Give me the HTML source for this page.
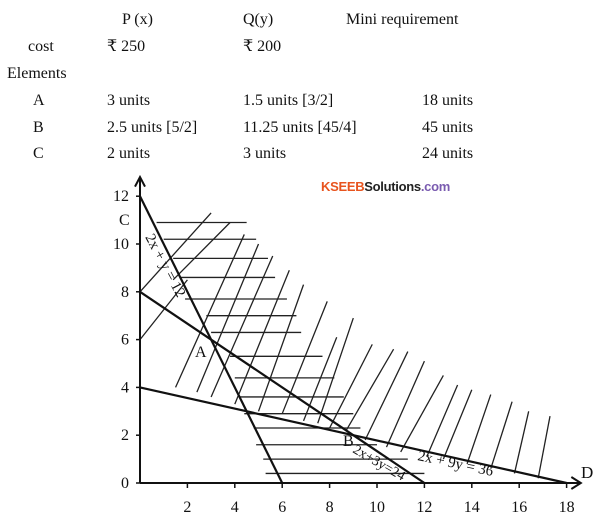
<!DOCTYPE html>
<html><head><meta charset="utf-8"><style>
body{margin:0;width:608px;height:519px;background:#fff;overflow:hidden;font-family:"Liberation Serif","DejaVu Serif",serif;}
svg{position:absolute;left:0;top:0}
text{font-family:"Liberation Serif","DejaVu Serif",serif;fill:#111}
</style></head><body>
<svg width="608" height="519">
<g font-size="16">
<text x="122" y="24">P (x)</text>
<text x="243" y="24">Q(y)</text>
<text x="346" y="24">Mini requirement</text>
<text x="28" y="51">cost</text>
<text x="107" y="51">₹ 250</text>
<text x="243" y="51">₹ 200</text>
<text x="7" y="78">Elements</text>
<text x="33" y="105">A</text>
<text x="107" y="105">3 units</text>
<text x="243" y="105">1.5 units [3/2]</text>
<text x="422" y="105">18 units</text>
<text x="33" y="132">B</text>
<text x="107" y="132">2.5 units [5/2]</text>
<text x="243" y="132">11.25 units [45/4]</text>
<text x="422" y="132">45 units</text>
<text x="33" y="158">C</text>
<text x="107" y="158">2 units</text>
<text x="243" y="158">3 units</text>
<text x="422" y="158">24 units</text>
</g>
<text x="321" y="191" style="font-family:'Liberation Sans',sans-serif;font-weight:bold;font-size:13px;letter-spacing:-0.3px"><tspan fill="#e8541e">KSEEB</tspan><tspan fill="#222">Solutions</tspan><tspan fill="#7a5bb0">.com</tspan></text>
<g id="plot"></g>
</svg>
<script>
const xTicks=[2,4,6,8,10,12,14,16,18];
const yTicks=[0,2,4,6,8,10,12];
// constraint lines: [a,b,c] for a x + b y = c
const lines=[[2,1,12],[2,3,24],[2,9,36]];
// horizontal hatches [y, x1, x2]
const hHatch=[[10.9,0.7,4.5],[10.2,1,4.9],[9.4,1.4,5.4],[8.6,1.7,5.7],[7.7,1.9,6.2],[7.0,2.8,6.6],[6.3,3.0,6.8],[5.3,3.8,7.7],[4.4,4.0,8.2],[3.6,4.2,8.6],[2.9,4.4,9.0],[2.3,4.8,9.3],[1.6,4.9,10],[1.0,5.2,11.3],[0.4,5.3,12]];
// diagonal hatches [x1,y1,x2,y2]
const dHatch=[[0,6,2.0,8.5],[0,8,3.0,11.3],[1.4,8.5,3.8,10.9],[1.5,4,4.4,10.4],[2.4,3.8,5.0,10.0],[3.0,3.6,5.6,9.5],[4.0,3.3,6.3,8.9],[5.0,3.0,6.9,8.3],[6.0,2.9,7.9,7.6],[6.9,2.6,8.3,6.1],[7.5,2.5,9.0,6.9],[8.0,2.3,9.8,5.8],[8.7,2.2,10.7,5.6],[9.5,1.8,11.3,5.5],[10.4,1.5,12.0,5.1],[11.0,1.3,12.8,4.5],[12.1,1.1,13.4,4.1],[12.8,1.0,14.0,3.9],[13.8,0.8,14.8,3.7],[14.8,0.6,15.7,3.4],[15.8,0.4,16.4,3.0],[16.8,0.2,17.3,2.8]];
const X=v=>140+v*23.7, Y=v=>483-v*23.9;
const g=document.getElementById('plot');
const ns='http://www.w3.org/2000/svg';
function mk(t,a){const e=document.createElementNS(ns,t);for(const k in a)e.setAttribute(k,a[k]);g.appendChild(e);return e;}
hHatch.forEach(h=>{const e=mk('line',{x1:X(h[1]),y1:Y(h[0]),x2:X(h[2]),y2:Y(h[0]),stroke:'#222','stroke-width':1.3});

});
dHatch.forEach(h=>{const e=mk('line',{x1:X(h[0]),y1:Y(h[1]),x2:X(h[2]),y2:Y(h[3]),stroke:'#222','stroke-width':1.3});

});
lines.forEach(l=>{const e=mk('line',{x1:X(0),y1:Y(l[2]/l[1]),x2:X(l[2]/l[0]),y2:Y(0),stroke:'#111','stroke-width':2.2});

});
let ax=mk('path',{d:`M${X(0)},${Y(0)}H${X(18.6)}M${X(18.2)},${Y(0)-6}L${X(18.6)},${Y(0)}L${X(18.2)},${Y(0)+6}M${X(0)},${Y(0)}V${Y(12.8)}M${X(0)-5},${Y(12.4)}L${X(0)},${Y(12.8)}L${X(0)+5},${Y(12.4)}`,stroke:'#111','stroke-width':2,fill:'none'});


xTicks.forEach(t=>{mk('line',{x1:X(t),y1:Y(0),x2:X(t),y2:Y(0)+5,stroke:'#111','stroke-width':1.5});
const e=mk('text',{x:X(t),y:Y(0)+29,'text-anchor':'middle','font-size':16});e.textContent=t;

});
yTicks.forEach(t=>{mk('line',{x1:X(0)-4,y1:Y(t),x2:X(0),y2:Y(t),stroke:'#111','stroke-width':1.5});
const e=mk('text',{x:X(0)-11,y:Y(t)+5,'text-anchor':'end','font-size':16});e.textContent=t;

});
function lab(s,x,y,rot,name,fs){const e=mk('text',{x:x,y:y,'font-size':fs||16,transform:rot?`rotate(${rot} ${x} ${y})`:''});e.textContent=s;

}
lab('C',119,225,0,'point-c');lab('A',195,357,0,'point-a');lab('B',343,446,0,'point-b');lab('D',581,478,0,'point-d',17);
lab('2x + y = 12',145,237,62,'label-2x-y-12',15);
lab('2x+3y=24',352,452,30,'label-2x-3y-24',14);
lab('2x + 9y = 36',417,460,12,'label-2x-9y-36',15);
</script>
</body></html>
